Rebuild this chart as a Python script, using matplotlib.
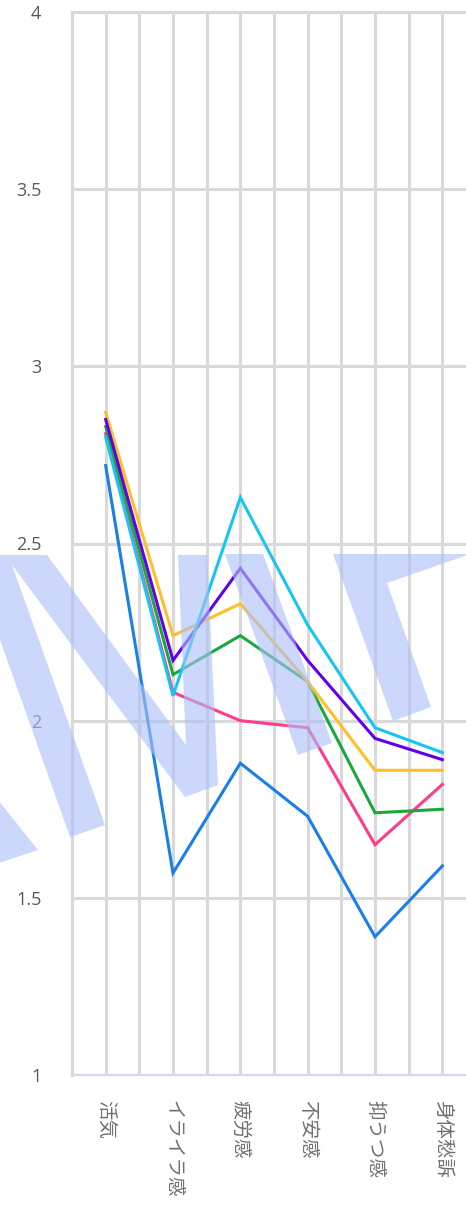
import numpy as np
import matplotlib
matplotlib.use("Agg")
import matplotlib.pyplot as plt
from matplotlib.patches import Polygon

# Data
categories = ["活気", "イライラ感", "疲労感", "不安感", "抑うつ感", "身体愁訴"]
blue = [2.72, 1.57, 1.88, 1.73, 1.39, 1.59]
pink = [2.81, 2.08, 2.00, 1.98, 1.65, 1.82]
green = [2.83, 2.13, 2.24, 2.11, 1.74, 1.75]
orange = [2.87, 2.24, 2.33, 2.11, 1.86, 1.86]
purple = [2.85, 2.17, 2.43, 2.17, 1.95, 1.89]
cyan = [2.80, 2.07, 2.63, 2.27, 1.98, 1.91]
y_ticks = [1, 1.5, 2, 2.5, 3, 3.5, 4]
y_tick_labels = ["1", "1.5", "2", "2.5", "3", "3.5", "4"]

series = [
    (blue, "#1a7fe8"),
    (pink, "#ff3b8b"),
    (green, "#1aa83a"),
    (orange, "#ffbf2b"),
    (purple, "#6200ea"),
    (cyan, "#18c5f0"),
]

W, H = 466, 1215
fig = plt.figure(figsize=(W / 100, H / 100), dpi=100)
# plot area runs past the right edge of the image, as in the reference
ax = fig.add_axes([72 / W, 1 - 1075 / H, (476 - 72) / W, (1075 - 12) / H])

grid_color = "#d9d9d9"
x = np.arange(len(categories))
for vals, col in series:
    ax.plot(x, vals, color=col, lw=2.2, solid_joinstyle="miter", zorder=3)

ax.set_xlim(-0.5, len(categories) - 0.5)
ax.set_ylim(1, 4)
ax.set_xticks(x)
ax.set_xticklabels(categories, rotation=-90, fontsize=14, color="#707070",
                   family=["Noto Sans CJK JP", "DejaVu Sans"])
ax.set_xticks(np.arange(-0.5, len(categories), 0.5), minor=True)
ax.set_yticks(y_ticks)
ax.set_yticklabels(y_tick_labels, fontsize=13, color="#595959",
                   family=["Open Sans", "DejaVu Sans"])
ax.tick_params(axis="x", which="both", length=0, pad=18)
ax.tick_params(axis="y", length=0, pad=22)
ax.grid(True, which="both", color=grid_color, lw=2.2)
ax.set_axisbelow(True)

ax.spines["right"].set_visible(False)
ax.spines["top"].set_color(grid_color)
ax.spines["top"].set_linewidth(2.2)
ax.spines["left"].set_color(grid_color)
ax.spines["left"].set_linewidth(2.2)
ax.spines["bottom"].set_color("#d3d9ee")
ax.spines["bottom"].set_linewidth(1.6)

# translucent watermark shapes drawn over everything (image pixel coords)
watermark = [
    [(-30, 555), (47, 555), (186, 745), (178, 555), (207, 555), (218, 785),
     (185, 797), (12, 565), (105, 825), (70, 837)],
    [(225, 554), (263, 554), (332, 743), (298, 755)],
    [(333, 554), (470, 554), (387, 583), (431, 707), (393, 721)],
    [(-10, 790), (38, 850), (-10, 866)],
]
for shape in watermark:
    pts = [(px / W, 1 - py / H) for px, py in shape]
    fig.add_artist(Polygon(pts, closed=True, transform=fig.transFigure,
                           facecolor=(172 / 255, 191 / 255, 249 / 255, 0.62),
                           edgecolor="none", zorder=10))

fig.savefig("out.png", dpi=100)
